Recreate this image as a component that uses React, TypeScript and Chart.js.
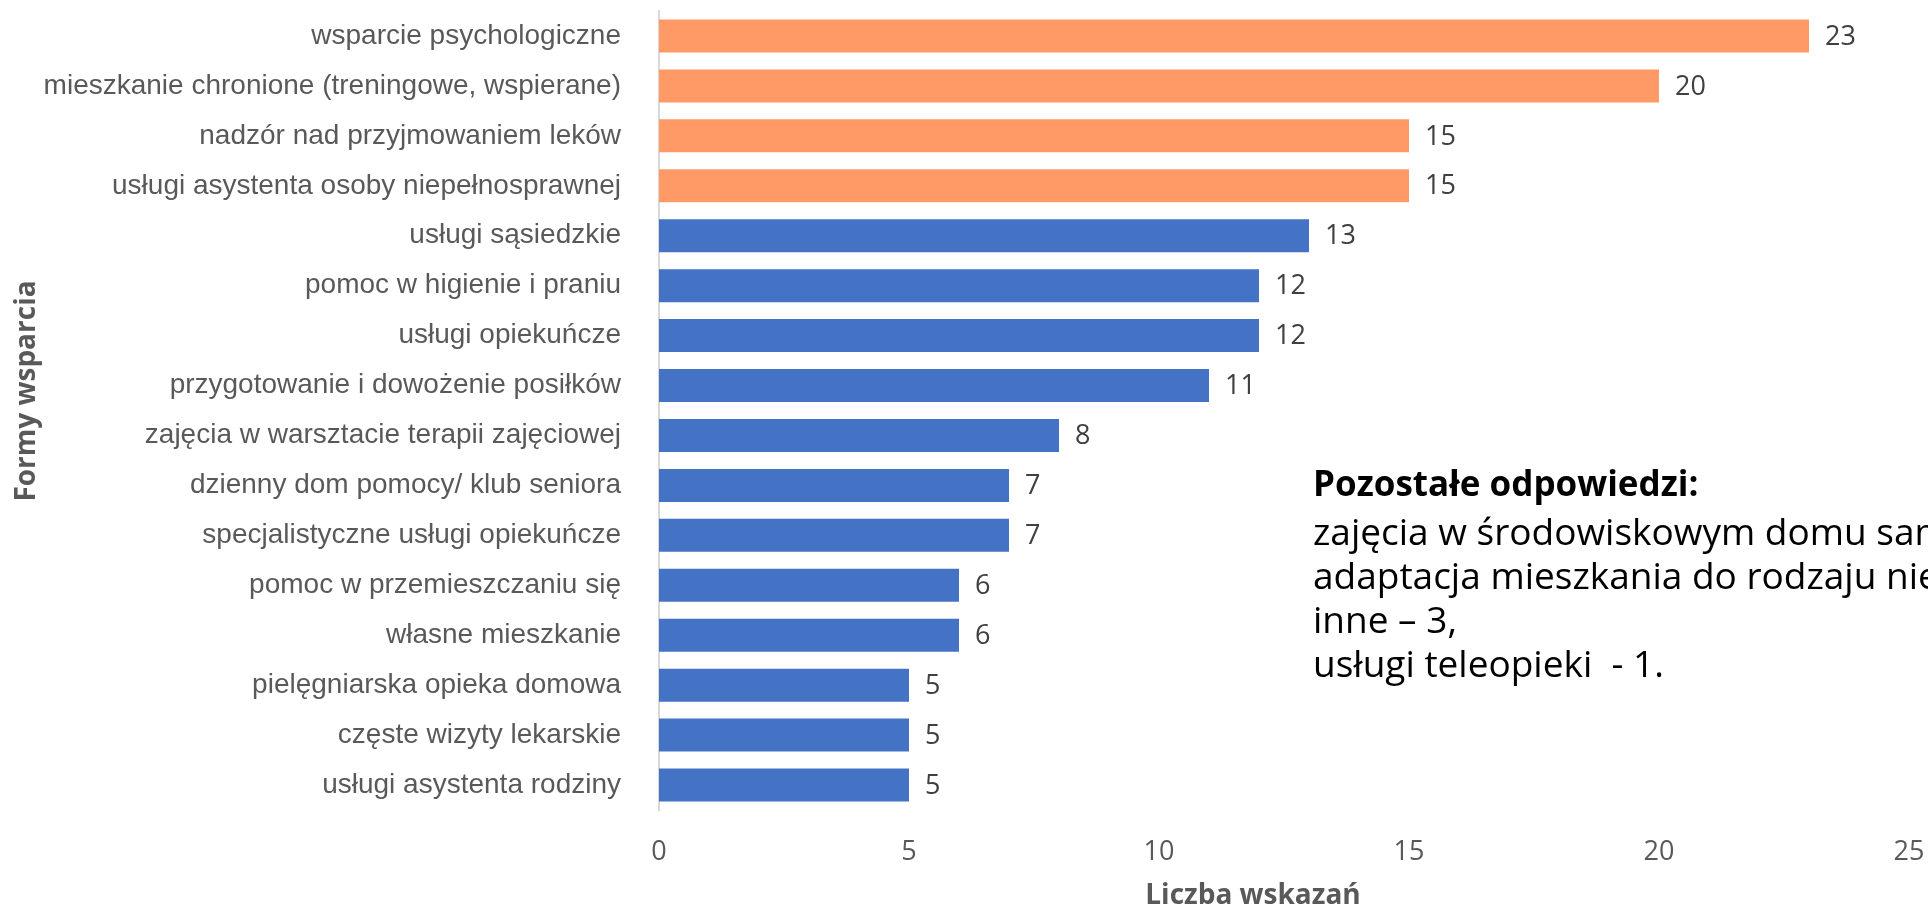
import React, { useEffect, useRef } from "react";
import { Chart, registerables } from "chart.js";

Chart.register(...registerables);

const categories: string[] = [
  "wsparcie psychologiczne",
  "mieszkanie chronione (treningowe, wspierane)",
  "nadzór nad przyjmowaniem leków",
  "usługi asystenta osoby niepełnosprawnej",
  "usługi sąsiedzkie",
  "pomoc w higienie i praniu",
  "usługi opiekuńcze",
  "przygotowanie i dowożenie posiłków",
  "zajęcia w warsztacie terapii zajęciowej",
  "dzienny dom pomocy/ klub seniora",
  "specjalistyczne usługi opiekuńcze",
  "pomoc w przemieszczaniu się",
  "własne mieszkanie",
  "pielęgniarska opieka domowa",
  "częste wizyty lekarskie",
  "usługi asystenta rodziny",
];
const values: number[] = [23, 20, 15, 15, 13, 12, 12, 11, 8, 7, 7, 6, 6, 5, 5, 5];
const xTicks: number[] = [0, 5, 10, 15, 20, 25];
const highlightedCount = 4;
const xTitle = "Liczba wskazań";
const yTitle = "Formy wsparcia";
const noteTitle = "Pozostałe odpowiedzi:";
const noteLines: string[] = [
  "zajęcia w środowiskowym domu samopomocy",
  "adaptacja mieszkania do rodzaju niepełnosprawności",
  "inne – 3,",
  "usługi teleopieki  - 1.",
];

const ORANGE = "#FF9A66";
const BLUE = "#4472C4";
const GREY = "#595959";

const overlayPlugin = {
  id: "overlay",
  afterDatasetsDraw(chart: any) {
    const ctx = chart.ctx as CanvasRenderingContext2D;
    const meta = chart.getDatasetMeta(0);
    ctx.save();
    // value labels
    ctx.font = "27px 'Open Sans'";
    ctx.fillStyle = "#404040";
    ctx.textAlign = "left";
    ctx.textBaseline = "middle";
    meta.data.forEach((el: any, i: number) => {
      ctx.fillText(String(values[i]), el.x + 16, el.y + 1);
    });
    // y title
    ctx.save();
    ctx.translate(27, 391);
    ctx.rotate(-Math.PI / 2);
    ctx.font = "bold 28px 'Open Sans'";
    ctx.fillStyle = GREY;
    ctx.textAlign = "center";
    ctx.textBaseline = "middle";
    ctx.fillText(yTitle, 0, 0);
    ctx.restore();
    // x title
    ctx.font = "bold 28px 'Open Sans'";
    ctx.fillStyle = GREY;
    ctx.textAlign = "center";
    ctx.textBaseline = "alphabetic";
    ctx.fillText(xTitle, 1253, 904);
    // note
    ctx.fillStyle = "#000000";
    ctx.textAlign = "left";
    ctx.font = "bold 35px 'Open Sans'";
    ctx.fillText(noteTitle, 1313, 496);
    ctx.font = "37px 'Open Sans'";
    noteLines.forEach((line, i) => {
      ctx.fillText(line, 1313, 545 + i * 44);
    });
    ctx.restore();
  },
};

export default function App() {
  const canvasRef = useRef<HTMLCanvasElement | null>(null);

  useEffect(() => {
    if (!canvasRef.current) return;
    const chart = new Chart(canvasRef.current, {
      type: "bar",
      data: {
        labels: categories,
        datasets: [
          {
            data: values,
            backgroundColor: (c: any) => (c.dataIndex < highlightedCount ? ORANGE : BLUE),
            categoryPercentage: 1,
            barPercentage: 0.66,
            borderWidth: 0,
          },
        ],
      },
      options: {
        indexAxis: "y",
        animation: false,
        responsive: true,
        maintainAspectRatio: false,
        layout: { padding: { top: 11, right: 19, left: 0, bottom: 0 } },
        plugins: {
          legend: { display: false },
          tooltip: { enabled: false },
        },
        scales: {
          x: {
            type: "linear",
            min: 0,
            max: 25,
            afterBuildTicks: (s: any) => {
              s.ticks = xTicks.map((v) => ({ value: v }));
            },
            afterFit: (s: any) => {
              s.height = 99;
              s.paddingLeft = 0;
              s.paddingRight = 0;
              s.paddingTop = 0;
              s.paddingBottom = 0;
            },
            grid: { display: false },
            border: { display: false },
            ticks: {
              padding: 18,
              maxRotation: 0,
              color: GREY,
              font: { family: "'Open Sans'", size: 27 },
            },
          },
          y: {
            afterFit: (s: any) => {
              s.width = 659;
              s.paddingLeft = 0;
              s.paddingRight = 0;
              s.paddingTop = 0;
              s.paddingBottom = 0;
            },
            grid: { display: false },
            border: { display: true, color: "#D9D9D9", width: 2 },
            ticks: {
              autoSkip: false,
              padding: 30,
              color: GREY,
              font: { family: "'Liberation Sans', Arial", size: 28 },
            },
          },
        },
      } as any,
      plugins: [overlayPlugin],
    });
    return () => chart.destroy();
  }, []);

  return (
    <div
      style={{
        position: "fixed",
        left: 0,
        top: 0,
        width: 1928,
        height: 909,
        background: "#ffffff",
        overflow: "hidden",
      }}
    >
      <canvas ref={canvasRef} />
    </div>
  );
}
